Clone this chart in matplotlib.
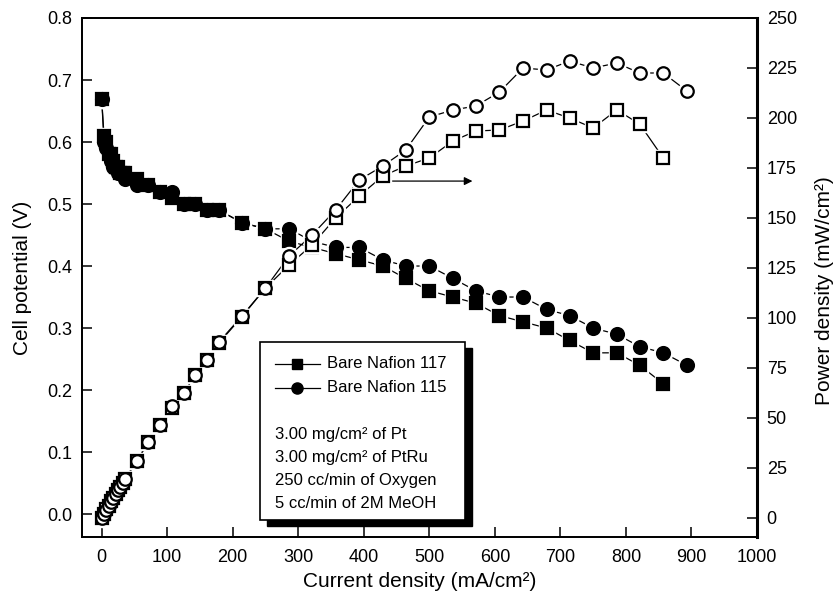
import numpy as np
import matplotlib
matplotlib.use("Agg")
import matplotlib.pyplot as plt
from matplotlib.patches import Rectangle
from matplotlib.lines import Line2D

plt.rcParams["font.family"] = ["Liberation Sans", "DejaVu Sans"]

# current density (mA/cm2)
current_117 = [0, 3.6, 7.1, 10.7, 14.3, 17.9, 21.4, 25, 28.6, 32.1, 35.7, 53.6, 71.4, 89.3, 107, 125, 143,
               161, 179, 214, 250, 286, 321, 357, 393, 429, 464, 500, 536, 571, 607, 643, 679, 714,
               750, 786, 821, 857]
current_115 = current_117 + [893]

# cell potential (V)
volt_117 = [0.67, 0.61, 0.60, 0.58, 0.58, 0.57, 0.56, 0.56, 0.55, 0.55, 0.55, 0.54, 0.53, 0.52, 0.51,
            0.50, 0.50, 0.49, 0.49, 0.47, 0.46, 0.44, 0.43, 0.42, 0.41, 0.40, 0.38, 0.36, 0.35,
            0.34, 0.32, 0.31, 0.30, 0.28, 0.26, 0.26, 0.24, 0.21]
volt_115 = [0.67, 0.60, 0.59, 0.58, 0.57, 0.56, 0.56, 0.55, 0.55, 0.55, 0.54, 0.53, 0.53, 0.52, 0.52,
            0.50, 0.50, 0.49, 0.49, 0.47, 0.46, 0.46, 0.44, 0.43, 0.43, 0.41, 0.40, 0.40, 0.38,
            0.36, 0.35, 0.35, 0.33, 0.32, 0.30, 0.29, 0.27, 0.26, 0.24]

# power density (mW/cm2)
power_117 = [0, 2.2, 4.3, 6.2, 8.3, 10.2, 12, 14, 15.7, 17.7, 19.6, 28.7, 37.9, 46.4, 55, 62.5, 71.5,
             79, 87.5, 100.6, 115, 126.5, 136.5, 150, 161, 171, 176, 180, 188.5, 193.5, 194, 198.5,
             204, 200, 195, 204, 197, 180]
power_115 = [0, 2.2, 4.2, 6.2, 8.2, 10, 12, 13.8, 15.7, 17.7, 19.3, 28.5, 38, 46.4, 56, 62.5, 71.5,
             79, 88, 101, 115, 131, 141.5, 154, 169, 176, 184, 200.5, 204, 206, 213, 225, 224, 228.5,
             225, 227.5, 222.5, 222.5, 213.5]

legend_names = ["Bare Nafion 117", "Bare Nafion 115"]
conditions = ["3.00 mg/cm² of Pt", "3.00 mg/cm² of PtRu", "250 cc/min of Oxygen", "5 cc/min of 2M MeOH"]

fig = plt.figure(figsize=(8.38, 6.0), dpi=100)
ax = fig.add_axes([82/838, 63/600, 675/838, 519/600])
ax2 = ax.twinx()


def curve(a, x, y, marker, ms, filled):
    a.plot(x, y, color="black", lw=0.9, zorder=2)
    a.plot(x, y, ls="none", marker=marker, ms=ms + 4, mfc="white", mec="white", zorder=3)
    a.plot(x, y, ls="none", marker=marker, ms=ms, mfc="black" if filled else "white",
           mec="black", mew=1.6, zorder=4)


curve(ax, current_117, volt_117, "s", 8, True)
curve(ax, current_115, volt_115, "o", 9.3, True)
curve(ax2, current_117, power_117, "s", 8, False)
curve(ax2, current_115, power_115, "o", 9, False)

ax.set_xlim(-30, 1000)
ax.set_ylim(-0.037, 0.8)
ax2.set_ylim(-9.5, 250)
ax.set_xticks(np.arange(0, 1001, 100))
ax.set_yticks(np.arange(0, 0.81, 0.1))
ax.set_yticklabels([f"{v:.1f}" for v in np.arange(0, 0.81, 0.1)])
ax2.set_yticks(np.arange(0, 251, 25))

for a in (ax, ax2):
    a.tick_params(direction="in", length=7, width=1.1, labelsize=13, pad=7)
    for s in a.spines.values():
        s.set_linewidth(1.3)
ax.tick_params(axis="x", pad=9)
ax2.spines["right"].set_linewidth(2.2)

ax.set_xlabel("Current density (mA/cm²)", fontsize=15, labelpad=4)
ax.set_ylabel("Cell potential (V)", fontsize=15, labelpad=11)
ax2.set_ylabel("Power density (mW/cm²)", fontsize=15, labelpad=13)
ax2.yaxis.label.set_y(0.475)

# arrow pointing to power axis
ax.annotate("", xy=(570, 0.537), xytext=(438, 0.537),
            arrowprops=dict(arrowstyle="-|>", color="black", lw=0.9, mutation_scale=12), zorder=5)

# legend box with shadow
bx, by, bw, bh = 260/838, 1 - 520/600, 205/838, 178/600
fig.add_artist(Rectangle((bx + 7/838, by - 6/600), bw, bh, transform=fig.transFigure,
                         facecolor="black", edgecolor="black", zorder=10))
fig.add_artist(Rectangle((bx, by), bw, bh, transform=fig.transFigure,
                         facecolor="white", edgecolor="black", lw=1.2, zorder=11))
for i, (name, mk, ms) in enumerate(zip(legend_names, ["s", "o"], [7, 8])):
    yy = 1 - (364 + 24 * i) / 600
    fig.add_artist(Line2D([275/838, 320/838], [yy, yy], transform=fig.transFigure,
                          color="black", lw=0.9, zorder=12))
    fig.add_artist(Line2D([297/838], [yy], transform=fig.transFigure, marker=mk, ms=ms,
                          color="black", zorder=13))
    fig.text(327/838, yy, name, fontsize=12, va="center", ha="left", zorder=13)
for i, txt in enumerate(conditions):
    yy = 1 - (434 + 23.3 * i) / 600
    fig.text(275/838, yy, txt, fontsize=12, va="center", ha="left", zorder=13)

fig.savefig("out.png", dpi=100)
